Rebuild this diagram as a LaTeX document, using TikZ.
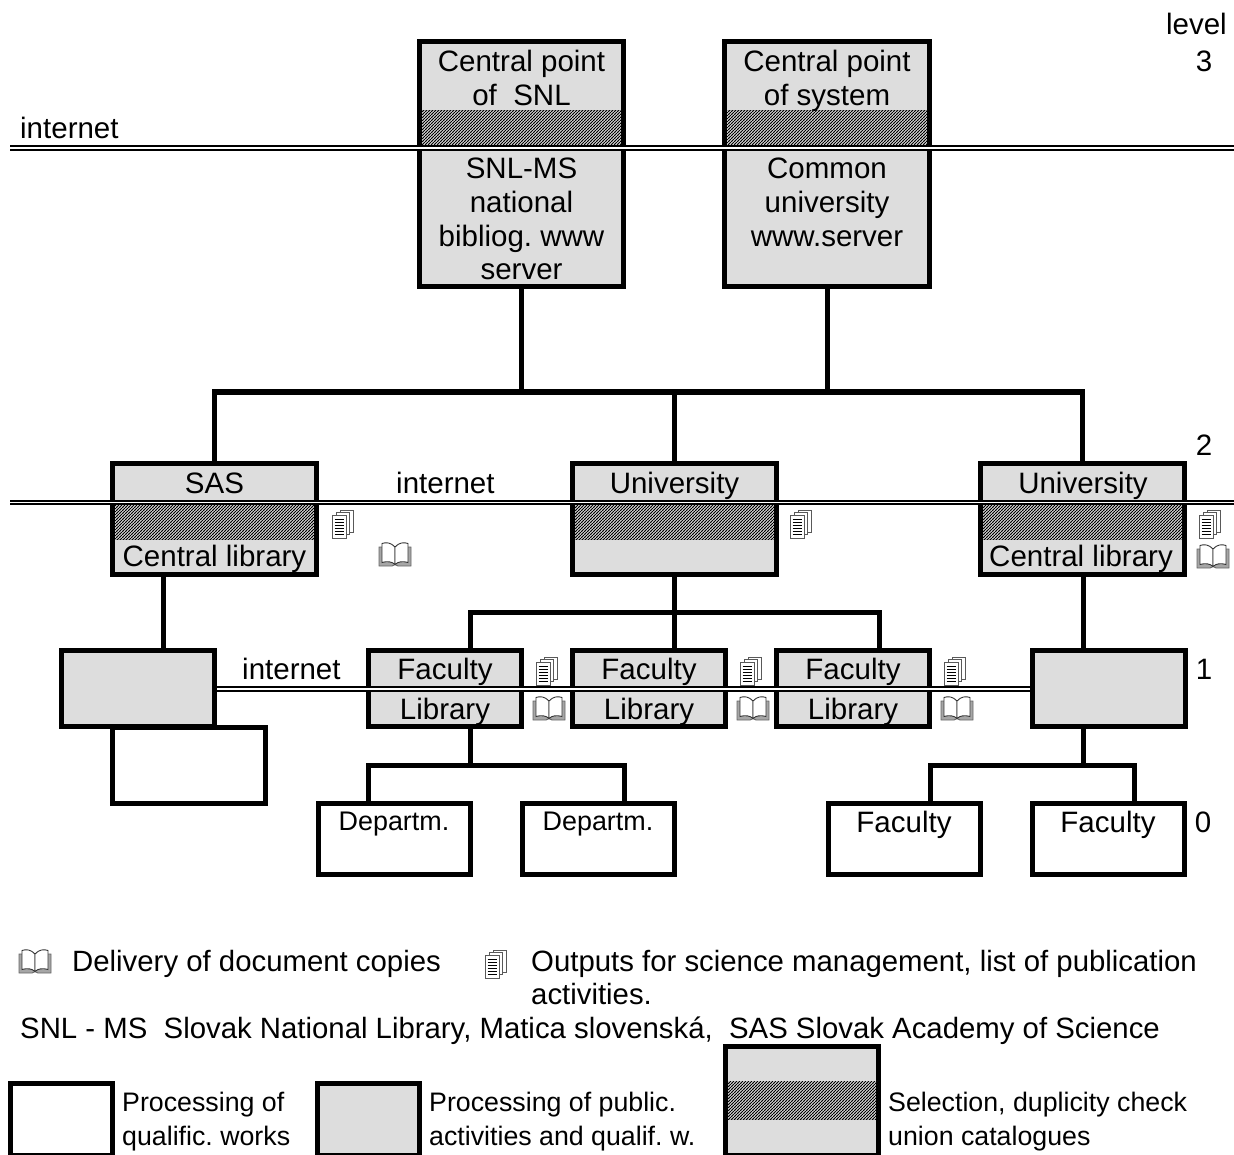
\documentclass[tikz,border=0pt]{standalone}
\usepackage{fontspec}
\setmainfont{Liberation Sans}
\usetikzlibrary{patterns}
\frenchspacing
\pgfdeclarepatternformonly{finehatch}{\pgfqpoint{-1pt}{-1pt}}{\pgfqpoint{4pt}{4pt}}{\pgfqpoint{3pt}{3pt}}{%
  \pgfsetlinewidth{0.95pt}%
  \pgfpathmoveto{\pgfqpoint{-1pt}{-1pt}}%
  \pgfpathlineto{\pgfqpoint{4pt}{4pt}}%
  \pgfusepath{stroke}}
\definecolor{boxgray}{HTML}{DDDDDD}
\tikzset{
  frame/.style={draw=black,line width=5pt,rectangle,inner sep=0pt,anchor=center},
  gbox/.style={frame,fill=boxgray},
  wbox/.style={frame,fill=white},
  conn/.style={draw=black,line width=5pt,line cap=butt,line join=miter},
  net/.style={draw=black,double=white,line width=2pt,double distance=1.5pt},
  big/.style={inner sep=0pt,anchor=base,font=\fontsize{29.5}{34}\selectfont},
  bigl/.style={big,anchor=base west},
  legendtext/.style={inner sep=0pt,anchor=base west,font=\fontsize{29.35}{34}\selectfont},
  small/.style={inner sep=0pt,anchor=base west,font=\fontsize{26.75}{32}\selectfont},
  pages/.pic={
    \foreach \dx/\dy in {8/0,4/2.5}{
      \filldraw[draw=black!65,fill=white,line width=0.9pt] (\dx,\dy) rectangle ++(13,22);
    }
    \filldraw[draw=black!65,fill=white,line width=0.9pt] (0,5) rectangle (14,28);
    \foreach \ly in {9,12,15,18,21,24}{
      \draw[black,line width=0.9pt] (2.5,\ly) -- (11.5,\ly);
    }
  },
  bookicon/.pic={
    \filldraw[draw=black!60,fill=black!35,line width=0.9pt]
      (0,5) -- (0,24) -- (13,24) -- (16,22.5) -- (19,24) -- (32,24) -- (32,5) -- cycle;
    \filldraw[draw=black!80,fill=white,line width=0.9pt]
      (16,5) .. controls (12,0.5) and (7,0) .. (3,1.5) -- (3,20.5) .. controls (8,19) and (13,19.5) .. (16,22.5) -- cycle;
    \filldraw[draw=black!80,fill=white,line width=0.9pt]
      (16,5) .. controls (20,0.5) and (25,0) .. (29,1.5) -- (29,20.5) .. controls (24,19) and (19,19.5) .. (16,22.5) -- cycle;
  }
}
\newcommand{\bx}[6]{\node[#1,minimum width={(#5-#3-5)*1pt},minimum height={(#6-#4-5)*1pt}] (#2) at ({(#3+#5)/2},{(#4+#6)/2}) {};}
\newcommand{\hatchband}[4]{\fill[white] (#1,#3) rectangle (#2,#4);\fill[pattern=finehatch,pattern color=black] (#1,#3) rectangle (#2,#4);}
\begin{document}
\begin{tikzpicture}[x=1pt,y=-1pt]
\useasboundingbox (0,0) rectangle (1234,1155);
% coordinates for the connector trees
\coordinate (bustop) at (674.5,392);
\coordinate (busuni) at (674.5,612);
\coordinate (busfac) at (470,765.5);
\coordinate (busright) at (1083.5,765.5);
\coordinate (tapsas) at (163.5,612);
\coordinate (tapa) at (470,612);
\coordinate (tapb) at (674.5,612);
\coordinate (tapc) at (879,612);
\coordinate (tapd) at (1134.5,765.5);
% boxes
\bx{gbox}{snl}{417}{39}{626}{289}
\bx{gbox}{sys}{722}{39}{932}{289}
\bx{gbox}{sas}{110}{461}{319}{577}
\bx{gbox}{uni}{570}{461}{779}{577}
\bx{gbox}{unr}{978}{461}{1187}{577}
\bx{wbox}{qual}{110}{725}{268}{806}
\bx{gbox}{lg}{59}{648}{217}{729}
\bx{gbox}{faca}{366}{648}{524}{729}
\bx{gbox}{facb}{570}{648}{728}{729}
\bx{gbox}{facc}{774}{648}{932}{729}
\bx{gbox}{rg}{1030}{648}{1188}{729}
\bx{wbox}{depa}{316}{801}{473}{877}
\bx{wbox}{depb}{520}{801}{677}{877}
\bx{wbox}{fra}{826}{801}{983}{877}
\bx{wbox}{frb}{1030}{801}{1187}{877}
\bx{wbox}{legw}{8}{1081}{115}{1158}
\bx{gbox}{legg}{315}{1081}{422}{1158}
\bx{gbox}{legh}{723}{1044}{881}{1158}
% hatch bands
\hatchband{422}{621}{111}{146}
\hatchband{727}{927}{111}{146}
\hatchband{115}{314}{503}{539}
\hatchband{575}{774}{503}{539}
\hatchband{983}{1182}{503}{539}
\hatchband{728}{876}{1081}{1119}
% connectors
\draw[conn] (snl.south) -- (snl.south |- bustop);
\draw[conn] (sys.south) -- (sys.south |- bustop);
\draw[conn] (sas.north) -- (sas.north |- bustop) -- (unr.north |- bustop) -- (unr.north);
\draw[conn] (uni.north) -- (uni.north |- bustop);
\draw[conn] (tapsas |- sas.south) -- (tapsas |- lg.north);
\draw[conn] (uni.south) -- (busuni) -- (tapb |- facb.north);
\draw[conn] (tapa |- faca.north) -- (tapa) -- (tapc) -- (tapc |- facc.north);
\draw[conn] (busfac |- faca.south) -- (busfac);
\draw[conn] (depa.north -| 368,0) -- (368,765.5) -- (624,765.5) -- (depb.north -| 624,0);
\draw[conn] (busright |- unr.south) -- (busright |- rg.north);
\draw[conn] (busright |- rg.south) -- (busright);
\draw[conn] (fra.north -| 930,0) -- (930,765.5) -- (tapd) -- (tapd |- frb.north);
% internet lines
\coordinate (netaL) at (10,148);
\coordinate (netaR) at (1234,148);
\coordinate (netbL) at (10,502.5);
\coordinate (netbR) at (1234,502.5);
\draw[net] (netaL) -- (netaR);
\draw[net] (netbL) -- (netbR);
\draw[net] (lg.east |- 0,689) -- (rg.west |- 0,689);
% texts
\node[big] (t1) at (521.5,72) {Central point};
\node[big] (t2) at (521.5,106) {of\ \ SNL};
\node[big] (t3) at (521.5,179) {SNL-MS};
\node[big] (t4) at (521.5,213) {national};
\node[big] (t5) at (521.5,247) {bibliog. www};
\node[big] (t6) at (521.5,280) {server};
\node[big] (t7) at (827,72) {Central point};
\node[big] (t8) at (827,106) {of system};
\node[big] (t9) at (827,179) {Common};
\node[big] (t10) at (827,213) {university};
\node[big] (t11) at (827,247) {www.server};
\node[bigl] (n1) at (20,139) {internet};
\node[bigl] (n2) at (396,493) {internet};
\node[bigl] (n3) at (242,679) {internet};
\node[big] (s1) at (214.5,493) {SAS};
\node[big] (s2) at (674.5,493) {University};
\node[big] (s3) at (1083,493) {University};
\node[big] (s4) at (214.5,566) {Central library};
\node[big] (s5) at (1081,566) {Central library};
\node[big] (f1) at (445,679) {Faculty};
\node[big] (f2) at (649,679) {Faculty};
\node[big] (f3) at (853,679) {Faculty};
\node[big] (l1) at (445,719) {Library};
\node[big] (l2) at (649,719) {Library};
\node[big] (l3) at (853,719) {Library};
\node[inner sep=0pt,anchor=base,font=\fontsize{26.9}{32}\selectfont] (d1) at (394,830) {Departm.};
\node[inner sep=0pt,anchor=base,font=\fontsize{26.9}{32}\selectfont] (d2) at (598,830) {Departm.};
\node[big] (d3) at (904,832) {Faculty};
\node[big] (d4) at (1108,832) {Faculty};
\node[big,anchor=base east] (v1) at (1227,35) {level};
\node[big] (v2) at (1204,72) {3};
\node[big] (v3) at (1204,455) {2};
\node[big] (v4) at (1204,679) {1};
\node[big] (v5) at (1203,832) {0};
\node[legendtext] (g1) at (72,971) {Delivery of document copies};
\node[legendtext] (g2) at (531,971) {Outputs for science management, list of publication};
\node[legendtext] (g3) at (531,1004) {activities.};
\node[legendtext] (g4) at (20,1038) {SNL - MS\ \ Slovak National Library, Matica slovenská,\ \ SAS Slovak Academy of Science};
\node[small] (k1) at (122,1111) {Processing of};
\node[small] (k2) at (122,1145) {qualific. works};
\node[small] (k3) at (429,1111) {Processing of public.};
\node[small] (k4) at (429,1145) {activities and qualif. w.};
\node[small] (k5) at (888,1111) {Selection, duplicity check};
\node[small] (k6) at (888,1145) {union catalogues};
% icons
\foreach \px/\py in {332/510,790/510,1199/510,536/657,740/657,944/657,485/950}{
  \pic at (\px,\py) {pages};
}
\foreach \px/\py in {379/542,1197/544,533/696,737/696,941/696,19/949}{
  \pic at (\px,\py) {bookicon};
}
\end{tikzpicture}
\end{document}
